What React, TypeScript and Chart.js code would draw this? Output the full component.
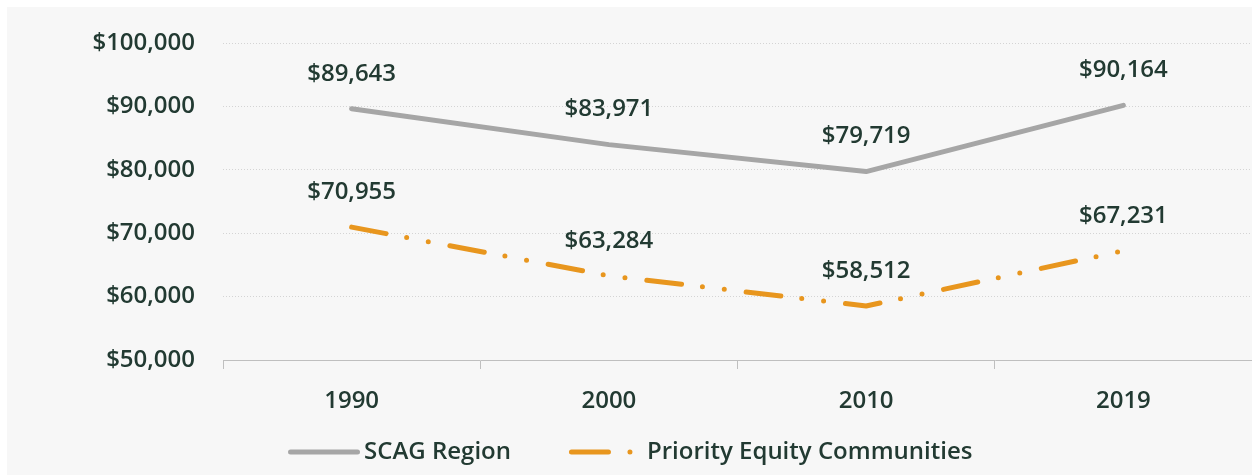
import React, { useEffect, useRef } from "react";
import { Chart, registerables } from "chart.js";

Chart.register(...registerables);

const years = ["1990", "2000", "2010", "2019"];
const scagRegion = [89643, 83971, 79719, 90164];
const priorityEquity = [70955, 63284, 58512, 67231];
const seriesNames = ["SCAG Region", "Priority Equity Communities"];
const yMin = 50000;
const yMax = 100000;
const yStep = 10000;

const TEXT = "#223a32";
const GRAY = "#a6a6a6";
const ORANGE = "#e8961e";
const FONT = "'Open Sans', 'Noto Sans', sans-serif";
const FONT_SIZE = 24;
const FONT_WEIGHT = "600";
const PEC_DASH = [35, 21, 0, 22, 0, 22];

const money = (v: number) => "$" + v.toLocaleString("en-US");

const dataLabelPlugin = {
  id: "dataLabels",
  afterDatasetsDraw(chart: any) {
    const ctx = chart.ctx;
    ctx.save();
    ctx.font = `${FONT_WEIGHT} ${FONT_SIZE}px ${FONT}`;
    ctx.fillStyle = TEXT;
    ctx.textAlign = "center";
    ctx.textBaseline = "middle";
    chart.data.datasets.forEach((ds: any, i: number) => {
      const meta = chart.getDatasetMeta(i);
      meta.data.forEach((pt: any, j: number) => {
        ctx.fillText(money(ds.data[j]), pt.x, pt.y - 35);
      });
    });
    ctx.restore();
  },
};

const legendPlugin = {
  id: "customLegend",
  afterDraw(chart: any) {
    const ctx = chart.ctx;
    ctx.save();
    ctx.font = `${FONT_WEIGHT} ${FONT_SIZE}px ${FONT}`;
    const w1 = ctx.measureText(seriesNames[0]).width;
    const y = 445;
    ctx.lineCap = "round";
    ctx.lineWidth = 5;
    // SCAG sample
    ctx.strokeStyle = GRAY;
    ctx.beginPath();
    ctx.moveTo(283.5, y);
    ctx.lineTo(350.5, y);
    ctx.stroke();
    const t1 = 357;
    // PEC sample: dash + dot
    const s2 = t1 + w1 + 58;
    ctx.strokeStyle = ORANGE;
    ctx.beginPath();
    ctx.moveTo(s2 + 2.5, y);
    ctx.lineTo(s2 + 39.5, y);
    ctx.stroke();
    ctx.beginPath();
    ctx.moveTo(s2 + 61, y);
    ctx.lineTo(s2 + 61, y);
    ctx.stroke();
    ctx.fillStyle = TEXT;
    ctx.textAlign = "left";
    ctx.textBaseline = "middle";
    ctx.fillText(seriesNames[0], t1, y);
    ctx.fillText(seriesNames[1], s2 + 78, y);
    ctx.restore();
  },
};

export default function App() {
  const ref = useRef<HTMLCanvasElement | null>(null);
  useEffect(() => {
    if (!ref.current) return;
    const chart = new Chart(ref.current, {
      type: "line",
      data: {
        labels: years,
        datasets: [
          {
            label: seriesNames[0],
            data: scagRegion,
            borderColor: GRAY,
            backgroundColor: GRAY,
            borderWidth: 5,
            borderCapStyle: "round",
            borderJoinStyle: "round",
            pointRadius: 0,
            tension: 0,
          },
          {
            label: seriesNames[1],
            data: priorityEquity,
            borderColor: ORANGE,
            backgroundColor: ORANGE,
            borderWidth: 5,
            borderDash: PEC_DASH,
            borderCapStyle: "round",
            borderJoinStyle: "round",
            pointRadius: 0,
            tension: 0,
          },
        ],
      },
      options: {
        animation: false,
        responsive: false,
        maintainAspectRatio: false,
        layout: { padding: { top: 36, right: 0, left: 0, bottom: 55 } },
        plugins: {
          legend: { display: false },
          tooltip: { enabled: false },
        },
        scales: {
          x: {
            offset: true,
            grid: {
              offset: true,
              drawOnChartArea: false,
              drawTicks: true,
              tickLength: 9,
              color: "#bfbfbf",
              lineWidth: 1,
            },
            border: { display: true, color: "#bfbfbf", width: 1 },
            ticks: {
              color: TEXT,
              font: { family: FONT, size: FONT_SIZE, weight: FONT_WEIGHT },
              padding: 18,
            },
            afterFit(scale: any) {
              scale.height = 60;
              scale.paddingLeft = 0;
              scale.paddingRight = 0;
            },
          },
          y: {
            min: yMin,
            max: yMax,
            grid: {
              drawTicks: false,
              color: "#d4d4d4",
              lineWidth: 1,
            },
            border: { display: false, dash: [1, 2] },
            ticks: {
              stepSize: yStep,
              color: TEXT,
              font: { family: FONT, size: FONT_SIZE, weight: FONT_WEIGHT },
              padding: 28,
              callback: (v: any) => money(Number(v)),
            },
            afterFit(scale: any) {
              scale.width = 216;
              scale.paddingTop = 0;
              scale.paddingBottom = 0;
            },
          },
        },
      },
      plugins: [dataLabelPlugin, legendPlugin],
    });
    return () => chart.destroy();
  }, []);
  return (
    <div
      style={{
        position: "absolute",
        left: 7,
        top: 7,
        width: 1245,
        height: 468,
        background: "#f7f7f7",
      }}
    >
      <canvas ref={ref} width={1245} height={468} style={{ display: "block" }} />
    </div>
  );
}
